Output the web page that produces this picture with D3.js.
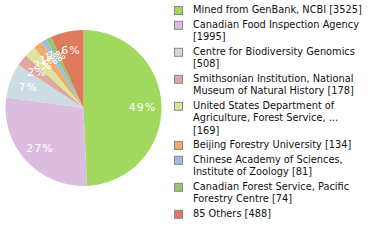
<!DOCTYPE html>
<html>
<head>
<meta charset="utf-8">
<script src="https://cdn.jsdelivr.net/npm/d3@7"></script>
<style>
  body { margin: 0; background: #fff; }
  svg text { font-family: "DejaVu Sans", sans-serif; }
</style>
</head>
<body>
<script>
// sources and their record counts
var names = [
  ["Mined from GenBank, NCBI [3525]"],
  ["Canadian Food Inspection Agency", "[1995]"],
  ["Centre for Biodiversity Genomics", "[508]"],
  ["Smithsonian Institution, National", "Museum of Natural History [178]"],
  ["United States Department of", "Agriculture, Forest Service, ...", "[169]"],
  ["Beijing Forestry University [134]"],
  ["Chinese Academy of Sciences,", "Institute of Zoology [81]"],
  ["Canadian Forest Service, Pacific", "Forestry Centre [74]"],
  ["85 Others [488]"]
];
var counts = [3525, 1995, 508, 178, 169, 134, 81, 74, 488];
var colors = ["#a1d95e", "#dcbde0", "#cddbe5", "#e0a9a0", "#dfe49d", "#f0aa6c", "#9dbce0", "#93c76a", "#e07a5c"];

var width = 380, height = 240;
var cx = 83.5, cy = 108, radius = 78;
var labelR = 59;

var svg = d3.select('body').append('svg').attr('width', width).attr('height', height);

var total = d3.sum(counts);
var pie = d3.pie().sort(null).value(function (d) { return d; });
var arcs = pie(counts);
var arc = d3.arc().innerRadius(0).outerRadius(radius);
var labelArc = d3.arc().innerRadius(labelR).outerRadius(labelR);

var g = svg.append('g').attr('transform', 'translate(' + cx + ',' + cy + ')');

g.selectAll('path')
  .data(arcs)
  .enter()
  .append('path')
  .attr('d', arc)
  .attr('fill', function (d, i) { return colors[i]; });

// percentages are truncated, not rounded (27%, 6%)
g.selectAll('text')
  .data(arcs)
  .enter()
  .append('text')
  .attr('transform', function (d) { return 'translate(' + labelArc.centroid(d) + ')'; })
  .attr('text-anchor', 'middle')
  .attr('dy', '0.35em')
  .attr('fill', '#fff')
  .style('font-size', '11px')
  .style('letter-spacing', '1px')
  .text(function (d) { return Math.floor(d.data / total * 100) + '%'; });

// legend
var lineH = 12.2, gap = 2.6;
var y = 10;
var legend = svg.append('g');
names.forEach(function (lines, i) {
  var item = legend.append('g').attr('transform', 'translate(0,' + y + ')');
  item.append('rect')
    .attr('x', 174.5).attr('y', -3.5)
    .attr('width', 8).attr('height', 8)
    .attr('fill', colors[i])
    .attr('stroke', '#888');
  item.selectAll('text')
    .data(lines)
    .enter()
    .append('text')
    .attr('x', 193)
    .attr('y', function (d, j) { return j * lineH; })
    .attr('dy', '0.35em')
    .attr('fill', '#111')
    .style('font-size', '9.8px')
    .text(function (d) { return d; });
  y += lines.length * lineH + gap;
});
</script>
</body>
</html>
